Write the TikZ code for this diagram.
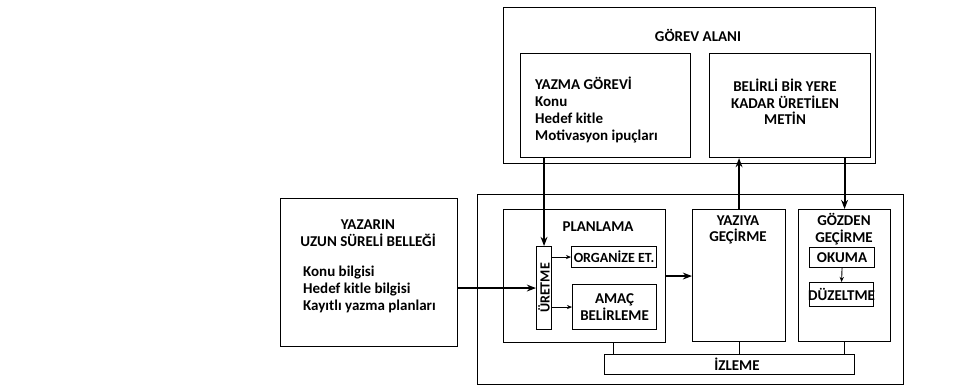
\documentclass[tikz,border=0pt]{standalone}
\usepackage{fontspec}
\setmainfont{Carlito}
\usetikzlibrary{arrows.meta,positioning}
\tikzset{
  frame/.style={draw, line width=1.1pt, inner sep=0pt, anchor=north west},
  lbl/.style={font=\bfseries\fontsize{15}{16.5}\selectfont, align=center, inner sep=0pt},
  lbll/.style={font=\bfseries\fontsize{15}{17}\selectfont, align=left, inner sep=0pt},
  sml/.style={font=\bfseries\fontsize{14}{15}\selectfont, align=center, inner sep=0pt},
  bigarr/.style={-{Stealth[length=3.2mm,width=2.4mm]}, line width=2pt},
  tinyarr/.style={-{Stealth[length=1.8mm,width=1.5mm]}, line width=0.9pt},
  tie/.style={line width=0.9pt},
}

\begin{document}
\begin{tikzpicture}[x=1pt, y=-1pt]
  \useasboundingbox (0,0) rectangle (979,388);
  % task environment
  \node[frame, minimum width=372pt, minimum height=156pt] (gorev) at (503,7) {};
  \node[lbl] (gorevlbl) at (698,35) {GÖREV ALANI};
  \node[frame, minimum width=170pt, minimum height=104pt] (yazma) at (520,53) {};
  \node[lbll, anchor=west] (yazmalbl) at (535,110)
    {YAZMA GÖREVİ\\ Konu\\ Hedef kitle\\ Motivasyon ipuçları};
  \node[frame, minimum width=161pt, minimum height=104pt] (metin) at (709,53) {};
  \node[lbl] (metinlbl) at (785,102) {BELİRLİ BİR YERE\\ KADAR ÜRETİLEN\\ METİN};
  % long term memory
  \node[frame, minimum width=177pt, minimum height=148pt] (bellek) at (280,198) {};
  \node[lbl] (bellekbas) at (368,233) {YAZARIN\\ UZUN SÜRELİ BELLEĞİ};
  \node[lbll, anchor=west] (bellekicerik) at (303,289)
    {Konu bilgisi\\ Hedef kitle bilgisi\\ Kayıtlı yazma planları};
  % writing process
  \node[frame, minimum width=426pt, minimum height=190pt] (surec) at (477,194) {};
  \node[frame, minimum width=162pt, minimum height=133pt] (planlama) at (503,209) {};
  \node[lbl] (planlamalbl) at (598,227) {PLANLAMA};
  \node[frame, minimum width=15pt, minimum height=83pt] (uretme) at (536,246) {};
  \node[sml, rotate=90] (uretmelbl) at (uretme.center) {ÜRETME};
  \node[frame, minimum width=85pt, minimum height=21pt] (organize) at (571,246) {};
  \node[sml] (organizelbl) at (organize.center) {ORGANİZE ET.};
  \node[frame, minimum width=84pt, minimum height=45pt] (amac) at (572,284) {};
  \node[lbl] (amaclbl) at (amac.center) {AMAÇ\\ BELİRLEME};
  \node[frame, minimum width=93pt, minimum height=132pt] (yaziya) at (692,209) {};
  \node[lbl] (yaziyalbl) at (738,230) {YAZIYA\\ GEÇİRME};
  \node[frame, minimum width=92pt, minimum height=132pt] (gozden) at (798,209) {};
  \node[lbl] (gozdenlbl) at (844,229) {GÖZDEN\\ GEÇİRME};
  \node[frame, minimum width=65pt, minimum height=20pt] (okuma) at (809,247) {};
  \node[lbl] (okumalbl) at (okuma.center) {OKUMA};
  \node[frame, minimum width=64pt, minimum height=24pt] (duzeltme) at (809,282) {};
  \node[lbl] (duzeltmelbl) at (duzeltme.center) {DÜZELTME};
  \node[frame, minimum width=250pt, minimum height=20pt] (izleme) at (604,354) {};
  \node[lbl] (izlemelbl) at (737,364) {İZLEME};
  % connectors
  \draw[bigarr] (uretme.north |- yazma.south) -- (uretme.north);
  \draw[bigarr] (yaziya.north) -- (yaziya.north |- metin.south);
  \draw[bigarr] (gozden.north |- metin.south) -- (gozden.north);
  \draw[bigarr] (bellek.east |- uretme.west) -- (uretme.west);
  \draw[bigarr] (planlama.east) -- (planlama.east -| yaziya.west);
  \draw[tinyarr] (uretme.east |- organize.west) -- (organize.west);
  \draw[tinyarr] (uretme.east |- amac.west) -- (amac.west);
  \draw[tinyarr] (okuma.south) -- (duzeltme.north);
  \draw[tie] ([xshift=29pt]planlama.south) -- ([xshift=29pt]planlama.south |- izleme.north);
  \draw[tie] (yaziya.south) -- (yaziya.south |- izleme.north);
  \draw[tie] (gozden.south) -- (gozden.south |- izleme.north);
\end{tikzpicture}
\end{document}
